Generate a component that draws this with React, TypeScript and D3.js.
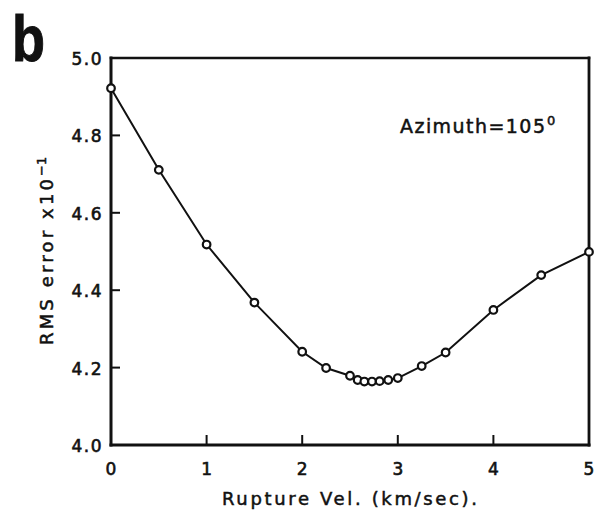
import React from "react";
import * as d3 from "d3";

const velocities = [0, 0.5, 1, 1.5, 2, 2.25, 2.5, 2.58, 2.65, 2.73, 2.81, 2.9, 3.0, 3.25, 3.5, 4, 4.5, 5];
const rmsErrors = [4.922, 4.711, 4.518, 4.368, 4.241, 4.199, 4.179, 4.168, 4.164, 4.164, 4.165, 4.168, 4.173, 4.204, 4.239, 4.349, 4.439, 4.499];
const xTicks = [0, 1, 2, 3, 4, 5];
const yTicks = [4.0, 4.2, 4.4, 4.6, 4.8, 5.0];

const W = 599;
const H = 516;
const left = 111, right = 589, top = 58, bottom = 445;
const font = "'DejaVu Sans', 'Liberation Sans', sans-serif";

export default function App() {
  const x = d3.scaleLinear().domain([0, 5]).range([left, right]);
  const y = d3.scaleLinear().domain([4, 5]).range([bottom, top]);
  const pts = velocities.map((v, i) => [x(v), y(rmsErrors[i])] as [number, number]);
  const line = d3.line()(pts) || "";

  return (
    <svg width={W} height={H} style={{ position: "absolute", left: 0, top: 0, background: "#fff" }}>
      <rect x={0} y={0} width={W} height={H} fill="#fff" />
      {/* panel letter */}
      <text x={12} y={61} fontFamily="'Liberation Sans', Arial, sans-serif" fontWeight="bold" fontSize={64}
        textLength={33} lengthAdjust="spacingAndGlyphs" fill="#111" stroke="#111" strokeWidth={1}>b</text>

      {/* frame */}
      <g stroke="#111" fill="none" strokeLinecap="square">
        <line x1={left} y1={top} x2={right} y2={top} strokeWidth={2.6} />
        <line x1={right} y1={top} x2={right} y2={bottom} strokeWidth={2.8} />
        <line x1={left} y1={bottom} x2={right} y2={bottom} strokeWidth={3} />
        <line x1={left} y1={top} x2={left} y2={bottom} strokeWidth={3} />
      </g>

      {/* ticks */}
      <g stroke="#111" strokeWidth={2}>
        {yTicks.filter(t => t > 4.0 && t < 5.0).map(t => (
          <line key={"yt" + t} x1={left} x2={left + 9} y1={y(t)} y2={y(t)} />
        ))}
        {xTicks.filter(t => t > 0 && t < 5).map(t => (
          <line key={"xt" + t} x1={x(t)} x2={x(t)} y1={bottom} y2={bottom - 10} />
        ))}
      </g>

      {/* tick labels */}
      <g fontFamily={font} fontSize={17} fill="#111" stroke="#111" strokeWidth={0.6}>
        {yTicks.map(t => (
          <text key={"yl" + t} x={103} y={y(t) + 7} textAnchor="end" letterSpacing={1.5}>
            {t.toFixed(1)}
          </text>
        ))}
        {xTicks.map(t => (
          <text key={"xl" + t} x={x(t)} y={475} textAnchor="middle">
            {t}
          </text>
        ))}
      </g>

      {/* x axis label */}
      <text x={222} y={505} fontFamily={font} fontSize={18} fill="#111" stroke="#111" strokeWidth={0.5}
        textLength={255} lengthAdjust="spacing">Rupture Vel. (km/sec).</text>

      {/* y axis label */}
      <g transform={`translate(53, 345) rotate(-90)`} fontFamily={font} fill="#111" stroke="#111" strokeWidth={0.5}>
        <text x={0} y={0} fontSize={18} textLength={166} lengthAdjust="spacing">RMS error x10</text>
        <text x={169} y={-7} fontSize={13}>−1</text>
      </g>

      {/* annotation */}
      <g fontFamily={font} fill="#111" stroke="#111" strokeWidth={0.5}>
        <text x={400} y={133} fontSize={19} textLength={145} lengthAdjust="spacing">Azimuth=105</text>
        <text x={547} y={125} fontSize={13}>0</text>
      </g>

      {/* data line */}
      <path d={line} fill="none" stroke="#111" strokeWidth={2} />
      {pts.map((p, i) => (
        <circle key={i} cx={p[0]} cy={p[1]} r={3.8} fill="#fff" stroke="#111" strokeWidth={2.2} />
      ))}
    </svg>
  );
}
